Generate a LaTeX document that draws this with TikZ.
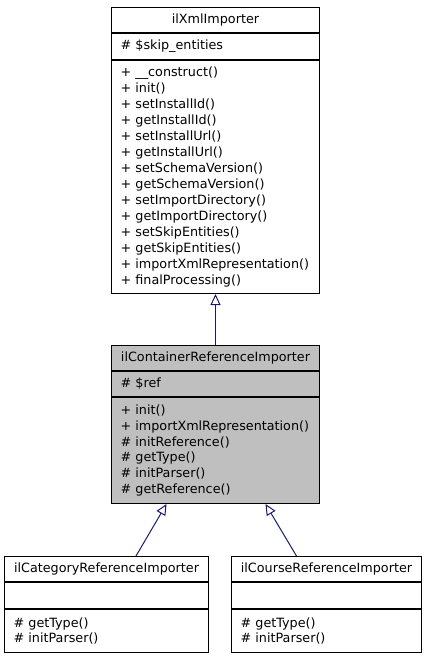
\documentclass[tikz,border=0pt]{standalone}
\usepackage{fontspec}
\setmainfont{DejaVu Sans}
\usetikzlibrary{positioning,arrows.meta}
\definecolor{edgeblue}{RGB}{25,25,112}
\tikzset{
  box/.style={draw=black, line width=1bp, font=\fontsize{12.8}{16}\selectfont, inner sep=0pt},
  boxtitle/.style={box, minimum height=25bp, align=center},
  boxattr/.style={box, minimum height=26bp, align=left, inner xsep=9bp},
  boxops/.style={box, align=left, inner xsep=9bp},
  inherit/.style={draw=edgeblue, line width=1bp, -{Triangle[open, length=11bp, width=10bp]}}
}
\begin{document}
\begin{tikzpicture}[x=1bp, y=1bp]
  \useasboundingbox (0,0) rectangle (427,-659);
  % base class
  \node[boxtitle, minimum width=208bp, anchor=north west] (xmlT) at (111,-7) {ilXmlImporter};
  \node[boxattr, text width=190bp, below=0pt of xmlT] (xmlA) {\# \$skip\_entities};
  \node[boxops, text width=190bp, minimum height=233bp, below=0pt of xmlA] (xmlO) {+ \_\_construct()\\+ init()\\+ setInstallId()\\+ getInstallId()\\+ setInstallUrl()\\+ getInstallUrl()\\+ setSchemaVersion()\\+ getSchemaVersion()\\+ setImportDirectory()\\+ getImportDirectory()\\+ setSkipEntities()\\+ getSkipEntities()\\+ importXmlRepresentation()\\+ finalProcessing()};
  % the class itself
  \node[boxtitle, fill=gray!50, minimum width=208bp, anchor=north west] (contT) at (111,-345) {ilContainerReferenceImporter};
  \node[boxattr, fill=gray!50, text width=190bp, minimum height=25bp, below=0pt of contT] (contA) {\# \$ref};
  \node[boxops, fill=gray!50, text width=190bp, minimum height=106bp, below=0pt of contA] (contO) {+ init()\\+ importXmlRepresentation()\\\# initReference()\\\# getType()\\\# initParser()\\\# getReference()};
  % derived classes
  \node[boxtitle, minimum width=204bp, anchor=north west] (catT) at (4,-556) {ilCategoryReferenceImporter};
  \node[boxattr, text width=186bp, below=0pt of catT] (catA) {};
  \node[boxops, text width=186bp, minimum height=43bp, below=0pt of catA] (catO) {\# getType()\\\# initParser()};
  \node[boxtitle, minimum width=190bp, anchor=north west] (crsT) at (231,-556) {ilCourseReferenceImporter};
  \node[boxattr, text width=172bp, below=0pt of crsT] (crsA) {};
  \node[boxops, text width=172bp, minimum height=43bp, below=0pt of crsA] (crsO) {\# getType()\\\# initParser()};
  \draw[inherit] (contT.north) -- (xmlO.south);
  \draw[inherit] ([xshift=29.5bp]catT.north) -- ([xshift=-49bp]contO.south);
  \draw[inherit] ([xshift=-30bp]crsT.north) -- ([xshift=50bp]contO.south);
\end{tikzpicture}
\end{document}
